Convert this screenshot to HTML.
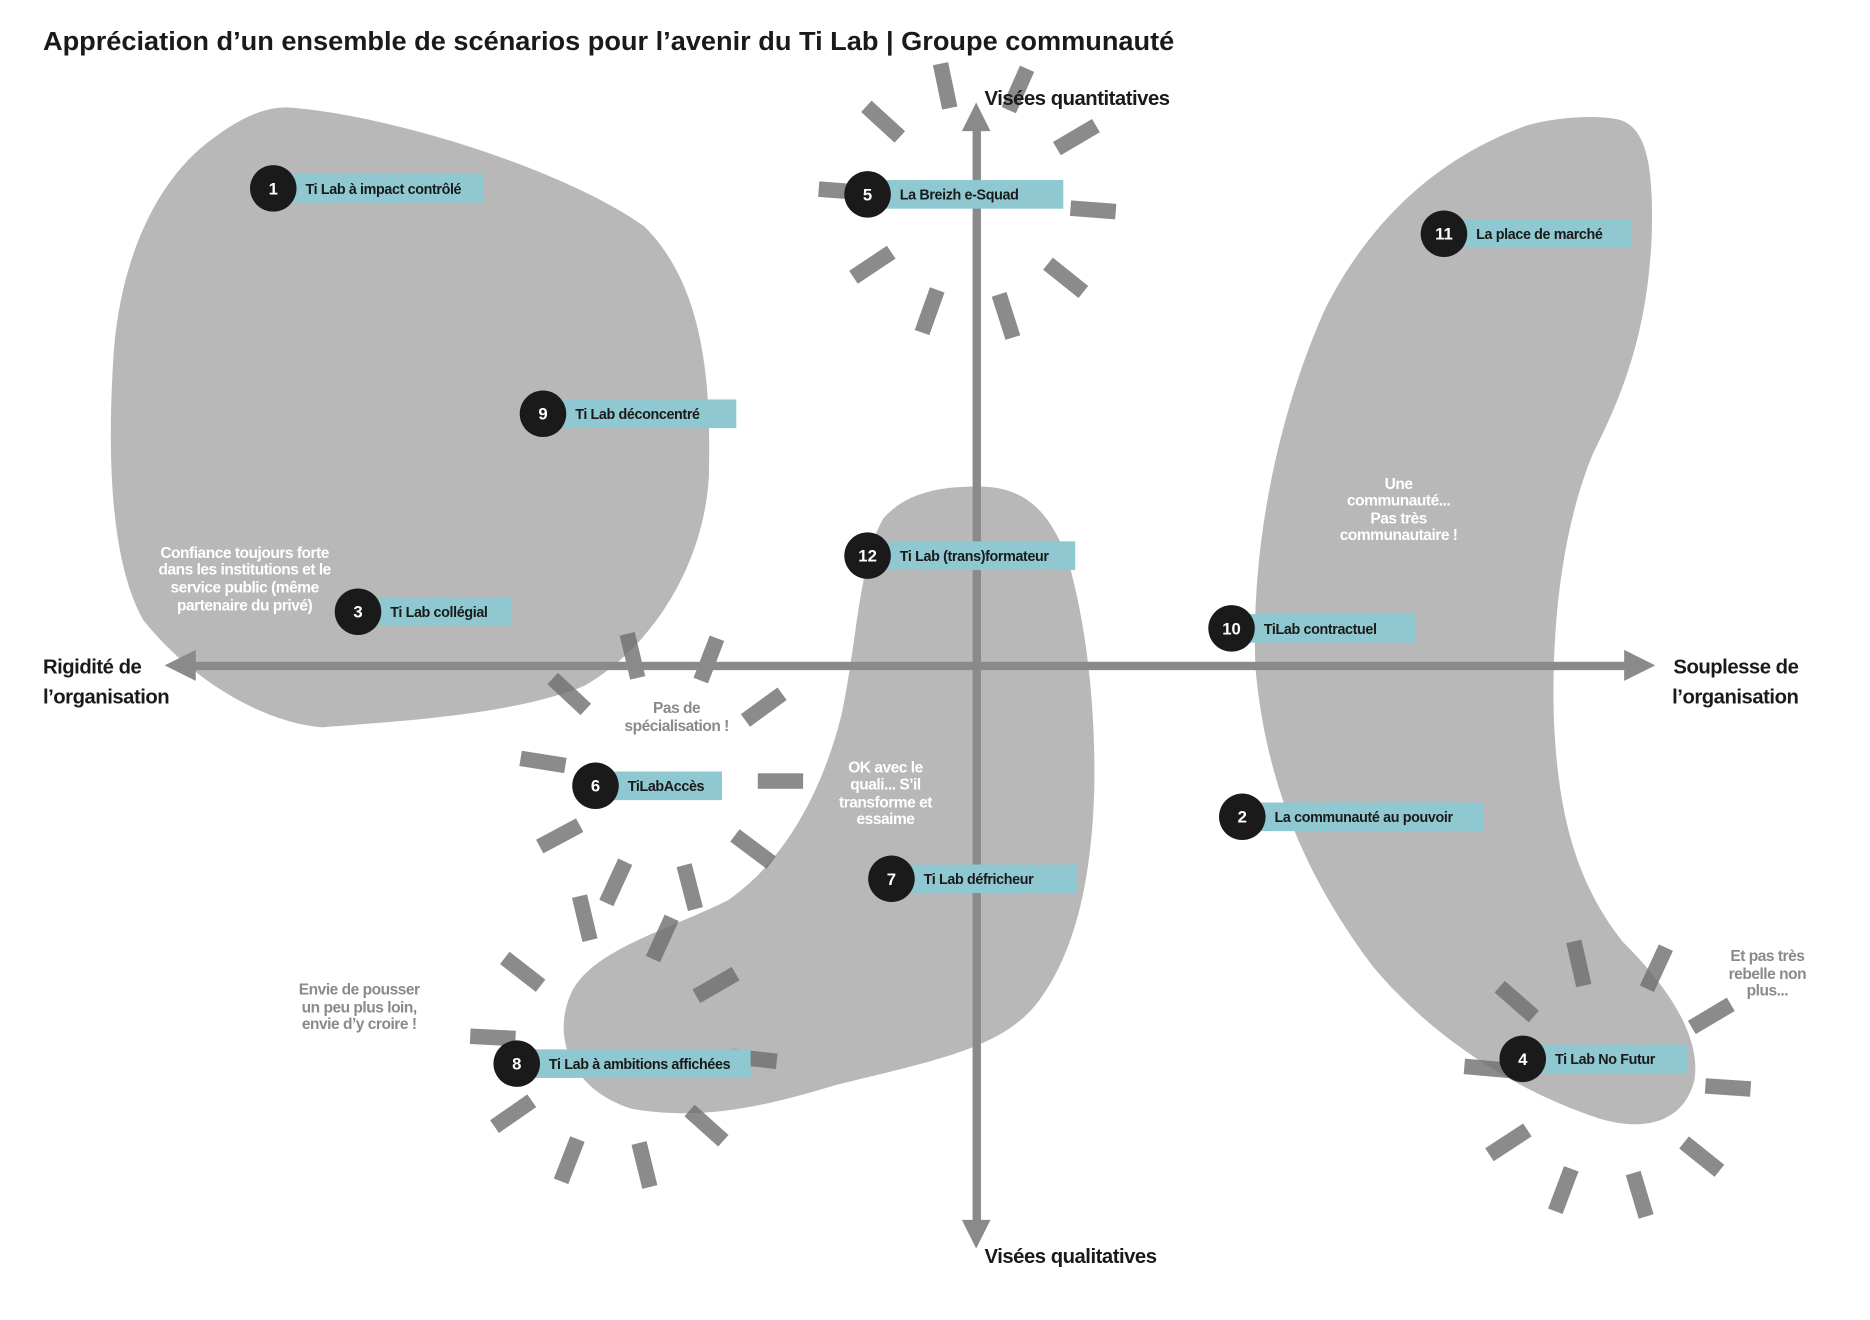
<!DOCTYPE html>
<html><head><meta charset="utf-8"><style>
html,body{margin:0;padding:0;background:#fff;}
svg{display:block;}
text{font-family:"Liberation Sans",sans-serif;}
</style></head><body>
<svg id="c" width="1870" height="1320" viewBox="0 0 1567 1107" preserveAspectRatio="none" xmlns="http://www.w3.org/2000/svg">
<text x="36" y="42" font-size="22" font-weight="bold" fill="#1a1a1a" textLength="948" lengthAdjust="spacingAndGlyphs">Appréciation d’un ensemble de scénarios pour l’avenir du Ti Lab | Groupe communauté</text>
<g fill="#b8b8b8">
<path d="M240,90 C320,95 470,140 540,190 C590,240 596,320 594,400 C590,470 550,540 490,575 C430,600 330,605 270,610 C220,606 160,570 120,520 C92,470 90,380 95,300 C100,220 130,150 180,115 C200,100 220,90 240,90 Z"/>
<path d="M820,408 C860,408 880,430 895,470 C912,530 918,600 917,660 C915,740 900,800 870,840 C840,880 780,890 700,910 C640,928 590,940 530,930 C480,915 460,870 480,830 C500,795 560,780 610,755 C660,720 690,660 705,600 C718,540 720,470 740,435 C760,412 790,408 820,408 Z"/>
<path d="M1355,100 C1380,105 1386,140 1384,200 C1380,280 1360,330 1335,380 C1310,440 1300,520 1302,600 C1305,680 1320,740 1360,790 C1400,830 1425,870 1420,905 C1412,940 1380,950 1340,938 C1270,915 1200,870 1150,810 C1090,730 1060,650 1052,560 C1048,460 1070,350 1110,260 C1150,180 1210,130 1280,105 C1310,97 1340,97 1355,100 Z"/>
</g>
<g id="bursts"></g>
<g fill="#8a8a8a" stroke="none">
<rect x="815" y="104" width="7" height="926"/>
<polygon points="818,86 806,110 830,110"/>
<polygon points="818,1047 806,1023 830,1023"/>
<rect x="156" y="555" width="1214" height="7"/>
<polygon points="138,558 164,545 164,571"/>
<polygon points="1387,558 1361,545 1361,571"/>
</g>
<g font-weight="bold" font-size="17" fill="#1a1a1a" letter-spacing="-0.4">
<text x="825" y="88">Visées quantitatives</text>
<text x="825" y="1059">Visées qualitatives</text>
<text x="36" y="565"><tspan x="36">Rigidité de</tspan><tspan x="36" dy="25">l’organisation</tspan></text>
<text x="1507" y="565" text-anchor="end"><tspan x="1507">Souplesse de</tspan><tspan x="1507" dy="25">l’organisation</tspan></text>
</g>
<g id="markers"></g>
<g font-weight="bold" font-size="13" text-anchor="middle" letter-spacing="-0.4" fill="#fff">
<text><tspan x="205" y="468">Confiance toujours forte</tspan><tspan x="205" y="482">dans les institutions et le</tspan><tspan x="205" y="497">service public (même</tspan><tspan x="205" y="512">partenaire du privé)</tspan></text>
<text><tspan x="1172" y="410">Une</tspan><tspan x="1172" y="424">communauté...</tspan><tspan x="1172" y="439">Pas très</tspan><tspan x="1172" y="453">communautaire !</tspan></text>
<text><tspan x="742" y="648">OK avec le</tspan><tspan x="742" y="662">quali... S’il</tspan><tspan x="742" y="677">transforme et</tspan><tspan x="742" y="691">essaime</tspan></text>
</g>
<g font-weight="bold" font-size="13" text-anchor="middle" letter-spacing="-0.4" fill="#8a8a8a">
<text><tspan x="567" y="598">Pas de</tspan><tspan x="567" y="613">spécialisation !</tspan></text>
<text><tspan x="301" y="834">Envie de pousser</tspan><tspan x="301" y="849">un peu plus loin,</tspan><tspan x="301" y="863">envie d’y croire !</tspan></text>
<text><tspan x="1481" y="806">Et pas très</tspan><tspan x="1481" y="821">rebelle non</tspan><tspan x="1481" y="835">plus...</tspan></text>
</g>
</svg>
<script>
const NS = 'http://www.w3.org/2000/svg';
const markerNums = [1,5,11,9,12,3,10,6,2,7,8,4];
const markerLabels = ['Ti Lab à impact contrôlé','La Breizh e-Squad','La place de marché','Ti Lab déconcentré','Ti Lab (trans)formateur','Ti Lab collégial','TiLab contractuel','TiLabAccès','La communauté au pouvoir','Ti Lab défricheur','Ti Lab à ambitions affichées','Ti Lab No Futur'];
const markerX = [229,727,1210,455,727,300,1032,499,1041,747,433,1276];
const markerY = [158,163,196,347,466,513,527,659,685,737,892,888];
const markerEndX = [405,891,1367,617,901,429,1186,605,1243,903,629,1414];

const burstCenters = [[812,168],[555,655],[515,875],[1345,905]];
const burstDashes = [
 [[792,72],[740,102],[853,75],[902,115],[916,176],[705,160],[731,222],[779,261],[843,265],[893,233]],
 [[530,550],[594,553],[477,582],[640,593],[455,639],[654,655],[469,701],[631,712],[516,740],[578,744]],
 [[490,770],[555,787],[438,815],[600,826],[413,870],[632,888],[430,934],[592,944],[477,973],[540,977]],
 [[1323,808],[1388,812],[1271,840],[1434,852],[1246,896],[1448,912],[1264,958],[1426,970],[1310,998],[1374,1002]]
];

const bg = document.getElementById('bursts');
burstDashes.forEach((list, bi) => {
  const [cx, cy] = burstCenters[bi];
  list.forEach(([x, y]) => {
    const ang = Math.atan2(y - cy, x - cx) * 180 / Math.PI;
    const r = document.createElementNS(NS, 'rect');
    r.setAttribute('x', -19); r.setAttribute('y', -6.5);
    r.setAttribute('width', 38); r.setAttribute('height', 13);
    r.setAttribute('fill', '#6e6e6e'); r.setAttribute('fill-opacity', '0.8');
    r.setAttribute('transform', `translate(${x},${y}) rotate(${ang})`);
    
    
    bg.appendChild(r);
  });
});

const mg = document.getElementById('markers');
markerNums.forEach((n, i) => {
  const g = document.createElementNS(NS, 'g');
  
  
  const rect = document.createElementNS(NS, 'rect');
  rect.setAttribute('x', markerX[i]); rect.setAttribute('y', markerY[i] - 12);
  rect.setAttribute('width', markerEndX[i] - markerX[i]); rect.setAttribute('height', 24);
  rect.setAttribute('fill', '#8fc8d0');
  
  
  g.appendChild(rect);
  const c = document.createElementNS(NS, 'circle');
  c.setAttribute('cx', markerX[i]); c.setAttribute('cy', markerY[i]); c.setAttribute('r', 19.5);
  c.setAttribute('fill', '#1a1a1a');
  
  
  g.appendChild(c);
  const t = document.createElementNS(NS, 'text');
  t.setAttribute('x', markerX[i]); t.setAttribute('y', markerY[i] + 5);
  t.setAttribute('text-anchor', 'middle'); t.setAttribute('font-size', '14');
  t.setAttribute('font-weight', 'bold'); t.setAttribute('fill', '#fff');
  t.textContent = n;
  
  
  g.appendChild(t);
  const l = document.createElementNS(NS, 'text');
  l.setAttribute('x', markerX[i] + 27); l.setAttribute('y', markerY[i] + 4.5);
  l.setAttribute('font-size', '12'); l.setAttribute('font-weight', 'bold');
  l.setAttribute('fill', '#1a1a1a'); l.setAttribute('letter-spacing', '-0.3');
  l.textContent = markerLabels[i];
  
  
  g.appendChild(l);
  mg.appendChild(g);
});
</script>
</body></html>
